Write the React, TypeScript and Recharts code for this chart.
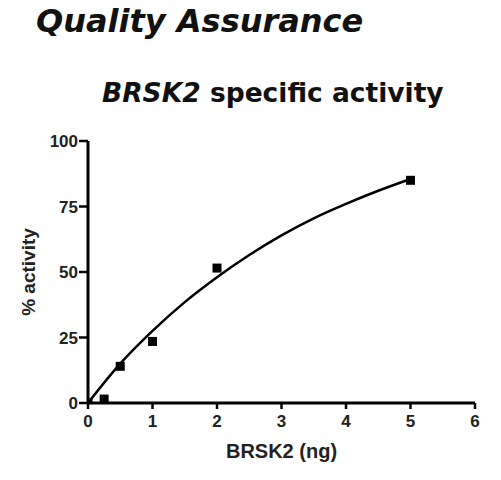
import React from 'react';
import { ComposedChart, Line, Scatter, XAxis, YAxis, Label } from 'recharts';

const amountsNg = [0, 0.25, 0.5, 1, 2, 5];
const activityPct = [0, 1.5, 14, 23.5, 51.5, 85];
const fitAmounts = [0, 0.5, 1, 1.5, 2, 2.5, 3, 3.5, 4, 4.5, 5];
const fitActivity = [0, 15, 27.5, 38.5, 48, 56.5, 64, 70.5, 76, 81, 85.5];
const xTicks = [0, 1, 2, 3, 4, 5, 6];
const yTicks = [0, 25, 50, 75, 100];

const points = amountsNg.map((x, i) => ({ x, y: activityPct[i] }));
const fit = fitAmounts.map((x, i) => ({ x, y: fitActivity[i] }));

const Square = (p: any) => (
  <rect x={p.cx - 4.5} y={p.cy - 4.5} width={9} height={9} fill="#000" />
);

const tickStyle = { fontFamily: 'Liberation Sans, Arial, sans-serif', fontSize: 17, fontWeight: 'bold', fill: '#222' };
const labelStyle = { fontFamily: 'Liberation Sans, Arial, sans-serif', fontSize: 20, fontWeight: 'bold', fill: '#222' };

export default function App() {
  return (
    <div style={{ position: 'absolute', left: 0, top: 0, width: 501, height: 480, background: '#fff' }}>
      <div style={{ position: 'absolute', left: 36, top: 2, fontFamily: 'DejaVu Sans, Verdana, sans-serif', fontWeight: 'bold', fontStyle: 'italic', fontSize: 32, color: '#111', whiteSpace: 'nowrap', lineHeight: '38px' }}>
        Quality Assurance
      </div>
      <div style={{ position: 'absolute', left: 102, top: 78, fontFamily: 'DejaVu Sans, Verdana, sans-serif', fontWeight: 'bold', fontSize: 26.5, color: '#111', whiteSpace: 'nowrap', lineHeight: '30px' }}>
        <span style={{ fontStyle: 'italic' }}>BRSK2</span> specific activity
      </div>
      <ComposedChart width={501} height={480} margin={{ top: 141, right: 26, bottom: 17, left: 30 }}>
        <XAxis
          type="number"
          dataKey="x"
          domain={[0, 6]}
          ticks={xTicks}
          height={60}
          stroke="#000"
          strokeWidth={3}
          tickSize={6}
          tickMargin={6}
          tick={tickStyle}
          tickLine={{ stroke: '#000', strokeWidth: 2.5 }}
          allowDataOverflow
        >
          <Label value="BRSK2 (ng)" position="insideTop" offset={41} style={labelStyle} />
        </XAxis>
        <YAxis
          type="number"
          dataKey="y"
          domain={[0, 100]}
          ticks={yTicks}
          width={58}
          stroke="#000"
          strokeWidth={3}
          tickSize={9}
          tickMargin={1}
          tick={tickStyle}
          tickLine={{ stroke: '#000', strokeWidth: 2.5 }}
          allowDataOverflow
        >
          <Label value="% activity" angle={-90} position="insideLeft" offset={-2} style={{ ...labelStyle, fontSize: 19, textAnchor: 'middle' }} />
        </YAxis>
        <Line data={fit} dataKey="y" type="monotone" stroke="#000" strokeWidth={2.5} dot={false} activeDot={false} isAnimationActive={false} />
        <Scatter data={points} dataKey="y" fill="#000" shape={Square} isAnimationActive={false} />
      </ComposedChart>
    </div>
  );
}
